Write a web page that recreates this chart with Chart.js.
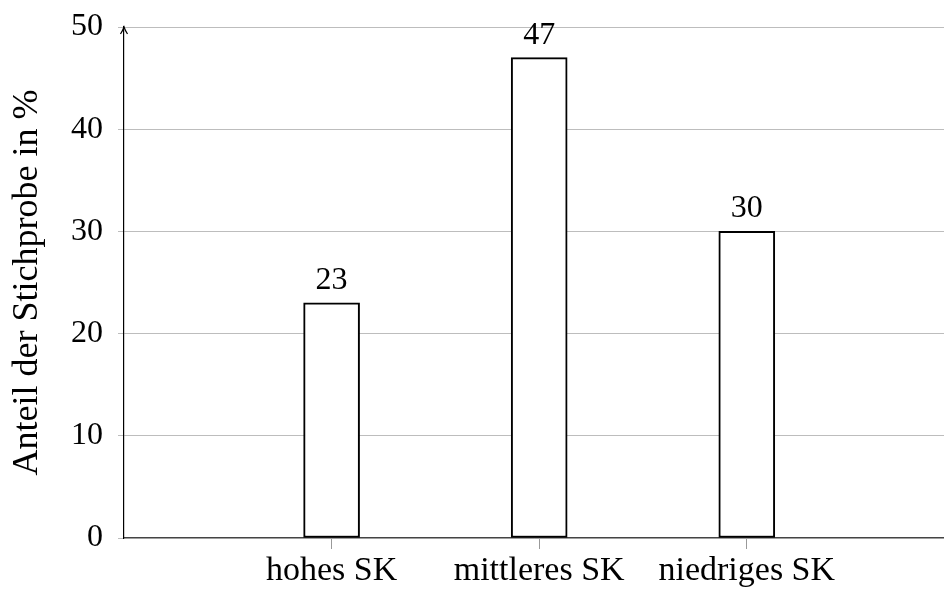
<!DOCTYPE html>
<html>
<head>
<meta charset="utf-8">
<script src="https://cdn.jsdelivr.net/npm/chart.js@4"></script>
<style>
  html, body { margin: 0; padding: 0; background: #fff; }
  #wrap { width: 944px; height: 592px; }
</style>
</head>
<body>
<div id="wrap"><canvas id="chart"></canvas></div>
<script>
// Data
const categories = ['hohes SK', 'mittleres SK', 'niedriges SK'];
const positions = [1, 2, 3];
const shares = [23, 47, 30];
const yTicks = [0, 10, 20, 30, 40, 50];

const FONT = '"Liberation Serif", "Times New Roman", serif';

// value labels above the bars
const valueLabels = {
  id: 'valueLabels',
  afterDatasetsDraw(chart) {
    const ctx = chart.ctx;
    const meta = chart.getDatasetMeta(0);
    ctx.save();
    ctx.font = '32px ' + FONT;
    ctx.fillStyle = '#000';
    ctx.textAlign = 'center';
    ctx.textBaseline = 'alphabetic';
    meta.data.forEach((bar, i) => {
      ctx.fillText(String(shares[i]), bar.x, bar.y - 14);
    });
    ctx.restore();
  }
};

// arrow head on top of the y axis
const axisArrow = {
  id: 'axisArrow',
  afterDraw(chart) {
    const ctx = chart.ctx;
    const x = chart.scales.y.right;
    const y = chart.chartArea.top;
    ctx.save();
    ctx.strokeStyle = '#000';
    ctx.lineWidth = 1.2;
    ctx.beginPath();
    ctx.moveTo(x - 3.5, y + 7);
    ctx.quadraticCurveTo(x - 1, y + 3, x, y);
    ctx.quadraticCurveTo(x + 1, y + 3, x + 3.5, y + 7);
    ctx.stroke();
    ctx.restore();
  }
};

new Chart(document.getElementById('chart'), {
  type: 'bar',
  data: {
    datasets: [{
      data: positions.map((p, i) => ({ x: p, y: shares[i] })),
      backgroundColor: '#fff',
      borderColor: '#000',
      borderWidth: 2,
      borderSkipped: false,
      barThickness: 56
    }]
  },
  options: {
    responsive: true,
    maintainAspectRatio: false,
    animation: false,
    layout: { padding: { top: 27, right: 0, left: 0, bottom: 0 } },
    plugins: { legend: { display: false }, tooltip: { enabled: false } },
    scales: {
      x: {
        type: 'linear',
        min: 0,
        max: 3.95,
        offset: false,
        afterBuildTicks: (scale) => { scale.ticks = positions.map(v => ({ value: v })); },
        afterFit: (scale) => { scale.height = 54; scale.paddingLeft = 0; scale.paddingRight = 0; },
        grid: { offset: false, drawOnChartArea: false, drawTicks: true, tickLength: 11, color: '#999' },
        border: { color: '#444', width: 1.2 },
        ticks: {
          padding: 2,
          color: '#000',
          font: { family: FONT, size: 34 },
          maxRotation: 0,
          autoSkip: false,
          callback: (v) => categories[positions.indexOf(v)] || ''
        }
      },
      y: {
        min: 0,
        max: 50,
        afterBuildTicks: (scale) => { scale.ticks = yTicks.map(v => ({ value: v })); },
        afterFit: (scale) => { scale.width = 124; scale.paddingTop = 0; scale.paddingBottom = 0; },
        grid: { color: '#bdbdbd', tickLength: 6, lineWidth: 1 },
        border: { color: '#000', width: 1.2 },
        ticks: {
          padding: 15,
          color: '#000',
          font: { family: FONT, size: 32 }
        },
        title: {
          display: true,
          text: 'Anteil der Stichprobe in %',
          color: '#000',
          font: { family: FONT, size: 36 },
          padding: { top: 6, bottom: 0 }
        }
      }
    }
  },
  plugins: [valueLabels, axisArrow]
});
</script>
</body>
</html>
